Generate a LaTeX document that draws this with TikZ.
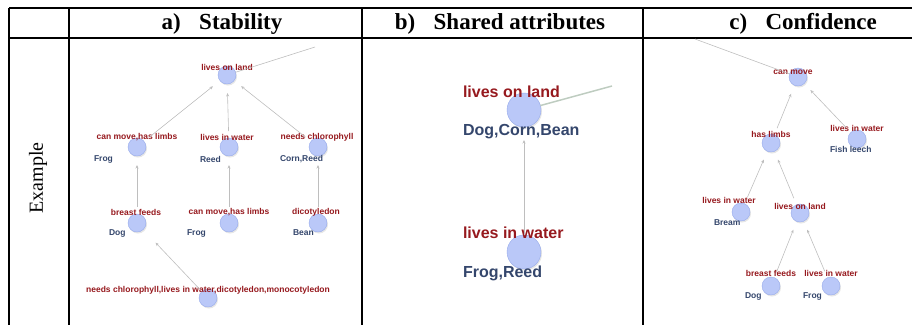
\documentclass[tikz,border=0pt]{standalone}
\usepackage{fontspec}
\setmainfont{Liberation Serif}
\newfontfamily\graphfont{Liberation Sans}
\usetikzlibrary{arrows.meta, shadows}

\definecolor{dotfill}{RGB}{186,200,248}
\definecolor{dotline}{RGB}{150,170,235}
\definecolor{attrred}{RGB}{150,25,30}
\definecolor{objblue}{RGB}{52,70,108}
\definecolor{edgegray}{RGB}{190,190,190}
\definecolor{edgegreen}{RGB}{190,204,192}

\begin{document}
\begin{tikzpicture}[
  x=1pt, y=-1pt,
  every node/.style={inner sep=0pt, outer sep=0pt},
  rule/.style={line width=1.3pt, black},
  head/.style={font=\fontsize{23}{23}\selectfont\bfseries},
  dot/.style={circle, draw=dotline, fill=dotfill, minimum size=18pt,
    drop shadow={opacity=0.2, shadow xshift=1pt, shadow yshift=-1.5pt}},
  bigdot/.style={dot, minimum size=34pt},
  attr/.style={font=\graphfont\fontsize{8.5}{8.5}\selectfont\bfseries, text=attrred},
  obj/.style={font=\graphfont\fontsize{8.5}{8.5}\selectfont\bfseries, text=objblue, anchor=west},
  bigattr/.style={attr, anchor=west, font=\graphfont\fontsize{16}{16}\selectfont\bfseries},
  bigobj/.style={obj, font=\graphfont\fontsize{16}{16}\selectfont\bfseries},
  link/.style={draw=edgegray, line width=0.6pt, -{Stealth[length=3.5pt,width=3pt]},
    shorten <=7pt, shorten >=9pt},
  loose/.style={draw=edgegray, line width=0.6pt}
]
\useasboundingbox (0,0) rectangle (912,325);

% table
\draw[rule] (9,8) -- (912,8);
\draw[rule] (9,38) -- (912,38);
\draw[rule] (9,8) -- (9,325);
\draw[rule, line width=2pt] (69,8) -- (69,325);
\draw[rule] (362,8) -- (362,325);
\draw[rule] (643,8) -- (643,325);

\node[head] (ha) at (222,24) {a)\hspace{0.8em}Stability};
\node[head] (hb) at (500,24) {b)\hspace{0.8em}Shared attributes};
\node[head] (hc) at (803,24) {c)\hspace{0.8em}Confidence};
\node[rotate=90, font=\fontsize{20}{20}\selectfont] (ex) at (38,178) {Example};

% a) Stability
\node[dot] (aland) at (227,75) {};
\node[attr] (alandt) at (227,67) {lives on land};
\coordinate (aout) at (315,47);

\node[dot] (amove) at (137,147) {};
\node[attr] (amovet) at (137,137) {can move,has limbs};
\node[obj] (amoveo) at (94,159) {Frog};
\node[dot] (awater) at (229,147) {};
\node[attr] (awatert) at (227,137) {lives in water};
\node[obj] (awatero) at (200,159) {Reed};
\node[dot] (achlor) at (318,147) {};
\node[attr] (achlort) at (317,137) {needs chlorophyll};
\node[obj] (achloro) at (280,159) {Corn,Reed};

\node[dot] (afeeds) at (137,223) {};
\node[attr] (afeedst) at (136,212) {breast feeds};
\node[obj] (afeedso) at (109,233) {Dog};
\node[dot] (alimbs) at (229,223) {};
\node[attr] (alimbst) at (229,212) {can move,has limbs};
\node[obj] (alimbso) at (187,233) {Frog};
\node[dot] (adicot) at (318,223) {};
\node[attr] (adicott) at (316,212) {dicotyledon};
\node[obj] (adicoto) at (293,233) {Bean};

\node[dot] (aall) at (208,298) {};
\node[attr] (aallt) at (208,290) {needs chlorophyll,lives in water,dicotyledon,monocotyledon};

\draw[loose] (aland) -- (aout);
\draw[link] (amove) -- (aland);
\draw[link] (awater) -- (aland);
\draw[link] (achlor) -- (aland);
\draw[link] (afeeds) -- (amove);
\draw[link] (alimbs) -- (awater);
\draw[link] (adicot) -- (achlor);
\draw[link, shorten >=18pt, shorten <=3pt] (aall) -- (afeeds);

% b) Shared attributes
\node[bigdot] (bland) at (524,110) {};
\node[bigattr] (blandt) at (463,92) {lives on land};
\node[bigobj] (blando) at (463,132) {Dog,Corn,Bean};
\coordinate (bout) at (612,86);
\node[bigdot] (bwater) at (524,252) {};
\node[bigattr] (bwatert) at (463,233) {lives in water};
\node[bigobj] (bwatero) at (463,273) {Frog,Reed};

\draw[loose, line width=1.5pt, draw=edgegreen] (bland) -- (bout);
\draw[link, shorten <=0pt, shorten >=13pt] (bwater) -- (bland);

% c) Confidence
\coordinate (cin) at (695,39);
\node[dot] (cmove) at (798,77) {};
\node[attr] (cmovet) at (793,72) {can move};
\node[dot] (climbs) at (771,143) {};
\node[attr] (climbst) at (771,134) {has limbs};
\node[dot] (cleech) at (857,139) {};
\node[attr] (cleecht) at (857,128) {lives in water};
\node[obj] (cleecho) at (830,149) {Fish leech};
\node[dot] (cbream) at (741,212) {};
\node[attr] (cbreamt) at (729,200) {lives in water};
\node[obj] (cbreamo) at (714,223) {Bream};
\node[dot] (cland) at (800,213) {};
\node[attr] (clandt) at (800,206) {lives on land};
\node[dot] (cfeeds) at (771,286) {};
\node[attr] (cfeedst) at (771,273) {breast feeds};
\node[obj] (cfeedso) at (745,296) {Dog};
\node[dot] (cfrog) at (831,286) {};
\node[attr] (cfrogt) at (831,273) {lives in water};
\node[obj] (cfrogo) at (803,296) {Frog};

\draw[loose] (cin) -- (cmove);
\draw[link] (climbs) -- (cmove);
\draw[link] (cleech) -- (cmove);
\draw[link] (cbream) -- (climbs);
\draw[link] (cland) -- (climbs);
\draw[link] (cfeeds) -- (cland);
\draw[link] (cfrog) -- (cland);

\end{tikzpicture}
\end{document}
